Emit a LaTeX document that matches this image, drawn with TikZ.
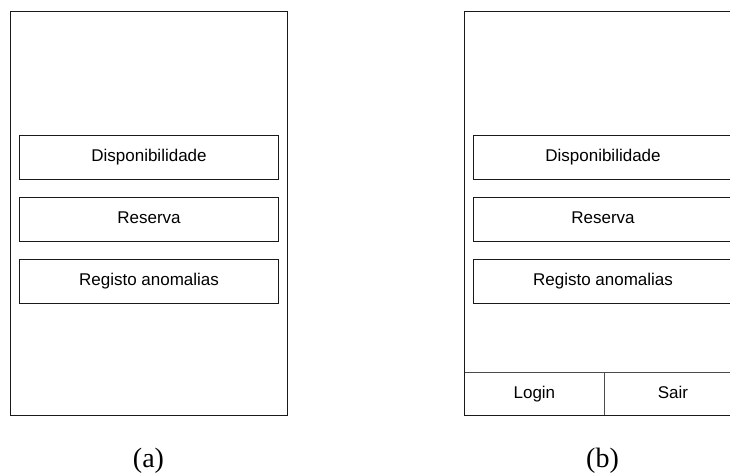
\documentclass[tikz,border=0pt]{standalone}
\usepackage{fontspec}
\setmainfont{Liberation Serif}
\newfontfamily\uifont{Liberation Sans}
\begin{document}
\begin{tikzpicture}[x=1bp,y=-1bp,
  screen/.style={draw=black!90,line width=1.3bp,inner sep=0pt,anchor=north west,
    minimum width=277bp,minimum height=404bp},
  menubtn/.style={draw=black!90,line width=1bp,inner sep=0pt,anchor=north west,
    minimum width=259bp,minimum height=44bp,text height=12.5bp,text depth=3.5bp,
    font=\uifont\fontsize{17bp}{20bp}\selectfont},
  barcell/.style={draw=black!70,line width=0.8bp,inner sep=0pt,anchor=north west,
    minimum height=43bp,text height=12.5bp,text depth=3.5bp,
    font=\uifont\fontsize{17bp}{20bp}\selectfont},
  caption/.style={font=\fontsize{28bp}{32bp}\selectfont}]
\useasboundingbox (0,0) rectangle (730,473);
\clip (0,0) rectangle (730,473);

% screen (a)
\node[screen] (scrA) at (10,11) {};
\node[menubtn] (dispA) at (19,135) {Disponibilidade};
\node[menubtn] (resA) at (19,197) {Reserva};
\node[menubtn] (regA) at (19,259) {Registo anomalias};
\node[caption] (capA) at (148.5,461) {(a)};

% screen (b), with its bottom bar drawn under the frame
\node[barcell,minimum width=140bp] (login) at (464,372) {Login};
\node[barcell,minimum width=137bp] (sair) at (604,372) {Sair};
\node[screen] (scrB) at (464,11) {};
\node[menubtn] (dispB) at (473,135) {Disponibilidade};
\node[menubtn] (resB) at (473,197) {Reserva};
\node[menubtn] (regB) at (473,259) {Registo anomalias};
\node[caption] (capB) at (602.5,461) {(b)};
\end{tikzpicture}
\end{document}
